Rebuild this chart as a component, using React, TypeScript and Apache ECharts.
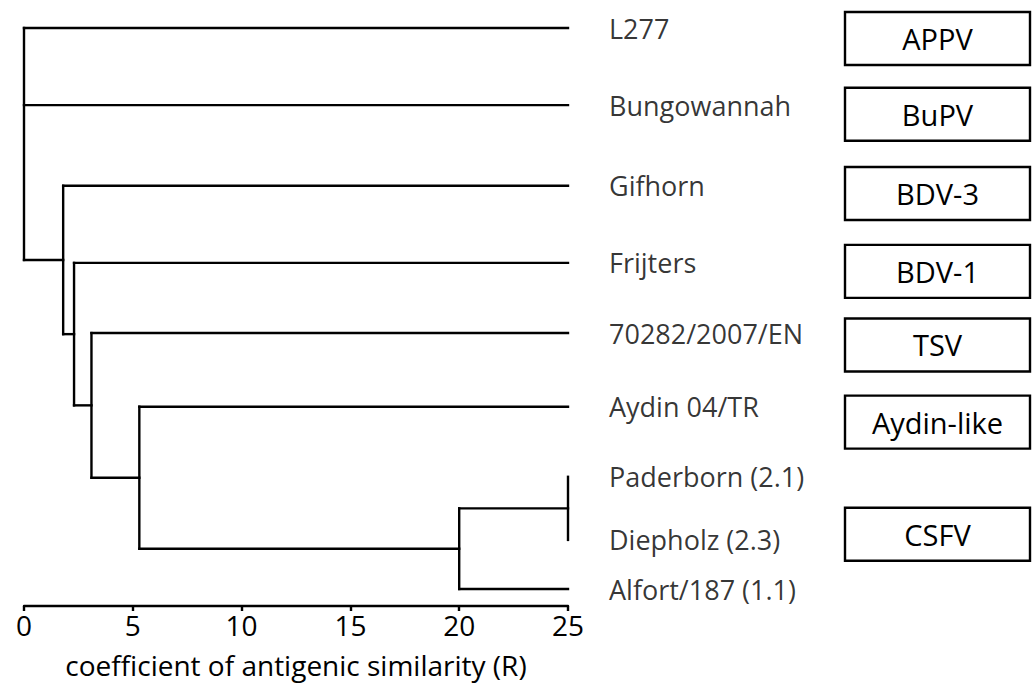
import React, { useEffect, useRef } from "react";
import * as echarts from "echarts";

// Leaves of the dendrogram (top to bottom) and their row positions
const leafNames = [
  "L277",
  "Bungowannah",
  "Gifhorn",
  "Frijters",
  "70282/2007/EN",
  "Aydin 04/TR",
  "Paderborn (2.1)",
  "Diepholz (2.3)",
  "Alfort/187 (1.1)",
];
const leafRow = [0, 1.1, 2.25, 3.35, 4.35, 5.4, 6.4, 7.3, 8];
const leafHeight = 25; // leaves sit at R = 25

// Merges (in order): children are leaf indices or earlier merges ("m0", "m1", ...)
const mergeChildren: (number | string)[][] = [
  [6, 7],
  ["m0", 8],
  [5, "m1"],
  [4, "m2"],
  [3, "m3"],
  [2, "m4"],
  [0, 1, "m5"],
];
const mergeHeight = [25, 20, 5.3, 3.1, 2.3, 1.8, 0];

// X axis ticks
const xMin = 0;
const xMax = 25;
const xInterval = 5;

// Group boxes on the right
const groupNames = ["APPV", "BuPV", "BDV-3", "BDV-1", "TSV", "Aydin-like", "CSFV"];
const groupRow = [0.15, 1.23, 2.36, 3.47, 4.52, 5.62, 7.22];

const FONT = "Open Sans";
const WEIGHT = 500;

function buildSegments(): number[][] {
  const nodeY: Record<string, number> = {};
  const nodeX: Record<string, number> = {};
  leafRow.forEach((r, i) => {
    nodeY[String(i)] = r;
    nodeX[String(i)] = leafHeight;
  });
  const segs: number[][] = [];
  mergeChildren.forEach((kids, m) => {
    const h = mergeHeight[m];
    const ys = kids.map((k) => nodeY[String(k)]);
    kids.forEach((k) => {
      const key = String(k);
      segs.push([h, nodeY[key], nodeX[key], nodeY[key]]);
    });
    const lo = Math.min(...ys);
    const hi = Math.max(...ys);
    segs.push([h, lo, h, hi]);
    nodeY["m" + m] = (lo + hi) / 2;
    nodeX["m" + m] = h;
  });
  return segs;
}

export default function App() {
  const ref = useRef<HTMLDivElement>(null);

  useEffect(() => {
    document.body.style.margin = "0";
    if (!ref.current) return;
    const chart = echarts.init(ref.current, undefined, { renderer: "svg" });
    const segs = buildSegments();

    chart.setOption({
      animation: false,
      backgroundColor: "#fff",
      textStyle: { fontFamily: FONT, color: "#000", fontWeight: WEIGHT },
      grid: [
        { left: 24, right: 466, top: 28, bottom: 97 },
        { left: 845, right: 4, top: 28, bottom: 97 },
      ],
      xAxis: [
        {
          gridIndex: 0,
          type: "value",
          position: "bottom",
          min: xMin,
          max: xMax,
          interval: xInterval,
          offset: 17,
          axisLine: { show: true, onZero: false, lineStyle: { color: "#000", width: 2.4 } },
          axisTick: { show: true, length: 5, lineStyle: { color: "#000", width: 2.4 } },
          axisLabel: {
            fontSize: 28,
            color: "#000",
            margin: 5,
            fontFamily: FONT,
            fontWeight: WEIGHT,
          },
          splitLine: { show: false },
          name: "coefficient of antigenic similarity (R)",
          nameLocation: "middle",
          nameGap: 45,
          nameTextStyle: { fontSize: 28, color: "#000", fontFamily: FONT, fontWeight: WEIGHT },
        },
        { gridIndex: 1, type: "value", min: 0, max: 1, show: false },
      ],
      yAxis: [
        { gridIndex: 0, type: "value", min: 0, max: 8, inverse: true, show: false },
        { gridIndex: 1, type: "value", min: 0, max: 8, inverse: true, show: false },
      ],
      series: [
        {
          type: "custom",
          xAxisIndex: 0,
          yAxisIndex: 0,
          clip: false,
          silent: true,
          data: segs,
          encode: { x: [0, 2], y: [1, 3] },
          renderItem: (_params: any, api: any) => {
            const p1 = api.coord([api.value(0), api.value(1)]);
            const p2 = api.coord([api.value(2), api.value(3)]);
            return {
              type: "line",
              shape: { x1: p1[0], y1: p1[1], x2: p2[0], y2: p2[1] },
              style: { stroke: "#000", lineWidth: 2.4, lineCap: "square" },
            };
          },
        },
        {
          type: "scatter",
          xAxisIndex: 0,
          yAxisIndex: 0,
          silent: true,
          symbolSize: 0,
          data: leafNames.map((n, i) => ({ name: n, value: [leafHeight, leafRow[i]] })),
          label: {
            show: true,
            position: "right",
            distance: 41,
            formatter: "{b}",
            color: "#000",
            fontSize: 27,
            fontFamily: FONT,
            fontWeight: WEIGHT,
          },
        },
        {
          type: "custom",
          xAxisIndex: 1,
          yAxisIndex: 1,
          clip: false,
          silent: true,
          data: groupRow.map((r, i) => [i, r]),
          encode: { y: 1 },
          renderItem: (params: any, api: any) => {
            const a = api.coord([0, api.value(1)]);
            const b = api.coord([1, api.value(1)]);
            const h = 53;
            return {
              type: "group",
              children: [
                {
                  type: "rect",
                  shape: { x: a[0], y: a[1] - h / 2, width: b[0] - a[0], height: h },
                  style: { fill: "#fff", stroke: "#000", lineWidth: 2.4 },
                },
                {
                  type: "text",
                  style: {
                    text: groupNames[params.dataIndex],
                    x: (a[0] + b[0]) / 2,
                    y: a[1],
                    align: "center",
                    verticalAlign: "middle",
                    fontSize: 29,
                    fontFamily: FONT,
                    fontWeight: WEIGHT,
                    fill: "#000",
                  },
                },
              ],
            };
          },
        },
      ],
    });

    return () => {
      chart.dispose();
    };
  }, []);

  return <div ref={ref} style={{ width: 1034, height: 686 }} />;
}
